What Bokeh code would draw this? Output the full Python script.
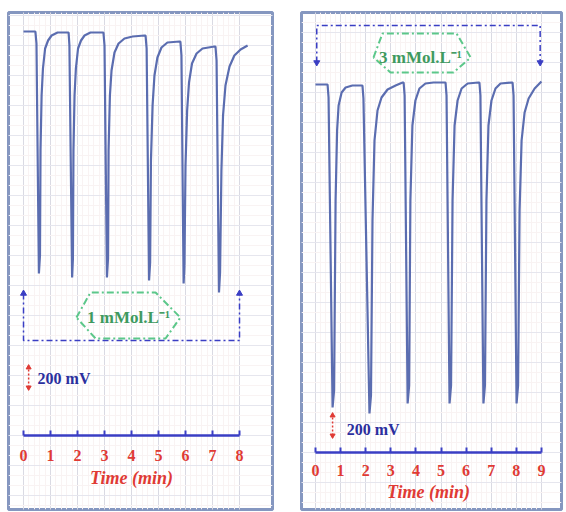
from bokeh.plotting import figure
from bokeh.layouts import row
from bokeh.models import Range1d, FixedTicker, SingleIntervalTicker, LinearAxis
from bokeh.core.properties import value
from bokeh.embed import file_html
from bokeh.resources import INLINE

SERIF = "Liberation Serif"

# ---------------- data: left recording (1 mMol.L-1) ----------------
left_time = [0.00, 0.41, 0.44, 0.48, 0.57, 0.61, 0.63, 0.67, 0.72, 0.80, 0.91, 1.04, 1.26, 1.63,
             1.67, 1.70, 1.80, 1.83, 1.85, 1.89, 1.94, 2.02, 2.13, 2.26, 2.48, 2.93,
             2.96, 3.00, 3.09, 3.13, 3.15, 3.20, 3.26, 3.37, 3.52, 3.74, 4.04, 4.48,
             4.52, 4.56, 4.65, 4.69, 4.72, 4.78, 4.85, 4.96, 5.11, 5.33, 5.78,
             5.81, 5.85, 5.93, 5.96, 6.00, 6.06, 6.13, 6.24, 6.41, 6.63, 7.07,
             7.11, 7.15, 7.24, 7.28, 7.33, 7.39, 7.48, 7.63, 7.81, 8.04, 8.30]
left_mv = [4040, 4040, 4040, 3920, 1620, 1800, 2850, 3400, 3670, 3870, 3950, 4000, 4030, 4030,
           4030, 3900, 1580, 1770, 2850, 3400, 3670, 3870, 3950, 4000, 4030, 4030,
           4030, 3900, 1580, 1770, 2850, 3400, 3650, 3830, 3920, 3970, 3990, 4000,
           4000, 3870, 1550, 1730, 2750, 3300, 3600, 3780, 3880, 3930, 3940,
           3940, 3800, 1520, 1700, 2700, 3250, 3530, 3720, 3820, 3870, 3890,
           3890, 3750, 1430, 1630, 2650, 3200, 3500, 3690, 3800, 3860, 3900]
left_ticks = [0, 1, 2, 3, 4, 5, 6, 7, 8]
left_label = "1 mMol.L\u207b\u00b9"
left_hex_t = [1.96, 2.48, 4.89, 5.81, 5.26, 2.67, 1.96]
left_hex_mv = [1180, 1430, 1430, 1180, 970, 970, 1180]
left_label_pos = (3.89, 1180)
left_bracket_t = [0, 0, 8, 8]
left_bracket_mv = [1420, 950, 950, 1420]
left_scale_t = 0.19
left_scale_mv = (480, 680)
left_scale_text_pos = (0.52, 570)

# ---------------- data: right recording (3 mMol.L-1) ----------------
right_time = [0.00, 0.44, 0.48, 0.52, 0.68, 0.74, 0.80, 0.86, 0.92, 1.04, 1.20, 1.47, 1.83,
              1.87, 1.91, 2.15, 2.21, 2.27, 2.35, 2.47, 2.63, 2.87, 3.19, 3.47,
              3.51, 3.55, 3.67, 3.73, 3.78, 3.86, 3.98, 4.14, 4.38, 4.70, 5.14,
              5.18, 5.22, 5.34, 5.40, 5.46, 5.54, 5.66, 5.82, 6.06, 6.49,
              6.53, 6.57, 6.69, 6.75, 6.81, 6.89, 7.01, 7.17, 7.37, 7.81,
              7.85, 7.89, 8.01, 8.07, 8.13, 8.21, 8.33, 8.49, 8.73, 9.00]
right_mv = [3680, 3680, 3680, 3550, 450, 620, 2520, 3220, 3470, 3600, 3650, 3670, 3670,
            3670, 3540, 390, 570, 2320, 3120, 3420, 3550, 3630, 3670, 3700,
            3700, 3570, 490, 670, 2520, 3270, 3520, 3640, 3690, 3700, 3700,
            3700, 3570, 490, 670, 2520, 3270, 3520, 3640, 3690, 3700,
            3700, 3570, 490, 670, 2520, 3270, 3520, 3640, 3690, 3700,
            3700, 3570, 490, 670, 2420, 3120, 3400, 3540, 3640, 3710]
right_ticks = [0, 1, 2, 3, 4, 5, 6, 7, 8, 9]
right_label = "3 mMol.L\u207b\u00b9"
right_hex_t = [2.31, 2.67, 5.62, 6.18, 5.50, 2.99, 2.31]
right_hex_mv = [3950, 4190, 4190, 3950, 3800, 3800, 3950]
right_label_pos = (4.18, 3950)
right_bracket_t = [0.05, 0.05, 8.95, 8.95]
right_bracket_mv = [3900, 4270, 4270, 3900]
right_scale_t = 0.68
right_scale_mv = (170, 370)
right_scale_text_pos = (1.24, 230)

TRACE = "#5b6db0"
BLUE = "#3a3ec4"
RED = "#e03a34"
GREEN_LINE = "#5cc78a"
GREEN_TEXT = "#3f9a5f"
NAVY = "#2b2f9e"


def panel(width, bl, br, xr, yr, t, mv, ticks, label, hex_t, hex_mv, label_pos,
          br_t, br_mv, bracket_up, sc_t, sc_mv, sc_txt, label_standoff, title_standoff):
    p = figure(width=width, height=512, x_range=Range1d(*xr), y_range=Range1d(*yr),
               x_axis_location=None, y_axis_location=None, toolbar_location=None,
               output_backend="svg", min_border_left=bl, min_border_right=br,
               min_border_top=12, min_border_bottom=3)
    p.background_fill_color = "white"
    p.border_fill_color = "white"
    p.outline_line_color = "#8597c0"
    p.outline_line_width = 3

    p.xgrid.ticker = SingleIntervalTicker(interval=1, num_minor_ticks=5)
    p.ygrid.ticker = SingleIntervalTicker(interval=300, num_minor_ticks=3)
    p.xgrid.grid_line_color = "#dadae3"
    p.ygrid.grid_line_color = "#e6e6ee"
    p.xgrid.minor_grid_line_color = "#f9f3f3"
    p.ygrid.minor_grid_line_color = "#f9f3f3"

    # time axis drawn at 0 mV
    ax = LinearAxis(fixed_location=0, bounds=(ticks[0], ticks[-1]),
                    ticker=FixedTicker(ticks=ticks), axis_label="Time (min)")
    ax.axis_line_color = BLUE
    ax.axis_line_width = 2.5
    ax.major_tick_in = 5
    ax.major_tick_out = 0
    ax.major_tick_line_color = BLUE
    ax.major_tick_line_width = 2
    ax.minor_tick_in = 0
    ax.minor_tick_out = 0
    ax.major_label_text_color = RED
    ax.major_label_text_font = SERIF
    ax.major_label_text_font_style = "bold"
    ax.major_label_text_font_size = "16px"
    ax.major_label_standoff = label_standoff
    ax.axis_label_text_color = RED
    ax.axis_label_text_font = SERIF
    ax.axis_label_text_font_style = "bold italic"
    ax.axis_label_text_font_size = "18px"
    ax.axis_label_standoff = title_standoff
    p.add_layout(ax, "below")

    # recorder trace
    p.line(t, mv, line_color=TRACE, line_width=2.2)

    # concentration bracket
    p.line(br_t, br_mv, line_color=BLUE, line_width=1.5, line_dash="6 3 2 3")
    ends_mv = max(br_mv) if bracket_up else min(br_mv)
    p.scatter([br_t[0], br_t[-1]], [ends_mv, ends_mv],
              marker="triangle" if bracket_up else "inverted_triangle",
              size=6, color=BLUE)

    # hexagon label
    p.line(hex_t, hex_mv, line_color=GREEN_LINE, line_width=2, line_dash="7 3 2 3")
    p.text([label_pos[0]], [label_pos[1]], text=[label], text_align="center",
           text_baseline="middle", text_color=GREEN_TEXT, text_font=value(SERIF),
           text_font_style="bold", text_font_size="17px")

    # 200 mV scale bar
    p.line([sc_t, sc_t], list(sc_mv), line_color=RED, line_width=1.5, line_dash="2 2")
    p.scatter([sc_t], [sc_mv[1]], marker="triangle", size=5, color=RED)
    p.scatter([sc_t], [sc_mv[0]], marker="inverted_triangle", size=5, color=RED)
    p.text([sc_txt[0]], [sc_txt[1]], text=["200 mV"], text_align="left",
           text_baseline="middle", text_color=NAVY, text_font=value(SERIF),
           text_font_style="bold", text_font_size="16px")
    return p


p1 = panel(283, 8, 11, (-0.556, 9.222), (-740, 4230), left_time, left_mv, left_ticks,
           left_label, left_hex_t, left_hex_mv, left_label_pos,
           left_bracket_t, left_bracket_mv, True,
           left_scale_t, left_scale_mv, left_scale_text_pos, 14, 4)
p2 = panel(283, 18, 5, (-0.558, 9.80), (-570, 4400), right_time, right_mv, right_ticks,
           right_label, right_hex_t, right_hex_mv, right_label_pos,
           right_bracket_t, right_bracket_mv, False,
           right_scale_t, right_scale_mv, right_scale_text_pos, 12, 3)

layout = row(p1, p2)
open("out.html", "w").write(file_html(layout, INLINE))
